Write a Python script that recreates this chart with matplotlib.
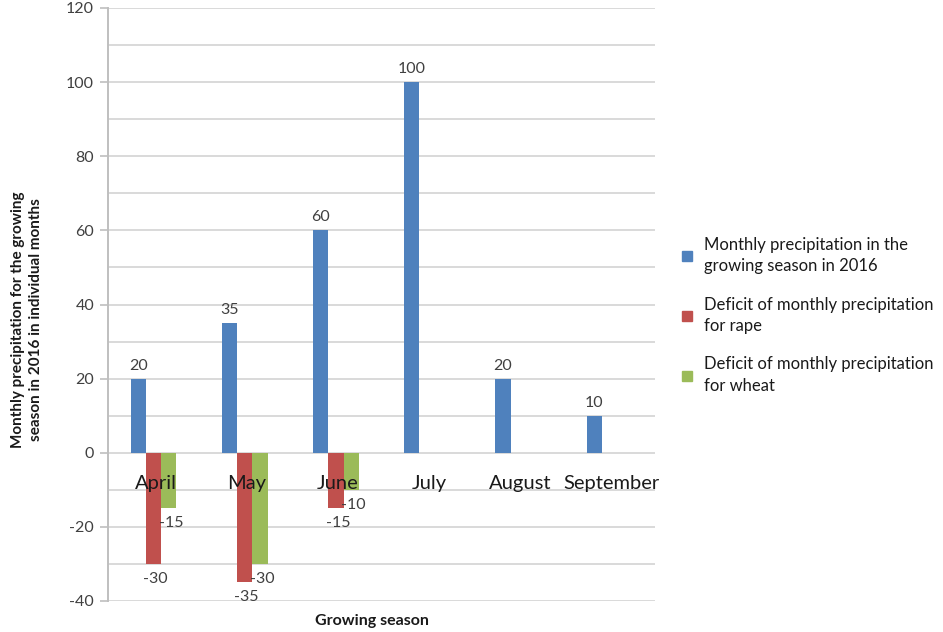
import numpy as np
import matplotlib
matplotlib.use("Agg")
import matplotlib.pyplot as plt
from matplotlib.lines import Line2D

months = ["April", "May", "June", "July", "August", "September"]
precip = [20, 35, 60, 100, 20, 10]
deficit_rape = [-30, -35, -15, np.nan, np.nan, np.nan]
deficit_wheat = [-15, -30, -10, np.nan, np.nan, np.nan]
series_names = ["Monthly precipitation in the\ngrowing season in 2016",
                "Deficit of monthly precipitation\nfor rape",
                "Deficit of monthly precipitation\nfor wheat"]
colors = ["#4F81BD", "#C0504D", "#9BBB59"]

plt.rcParams['font.family'] = ['Lato', 'DejaVu Sans']
plt.rcParams['axes.unicode_minus'] = False

fig = plt.figure(figsize=(9.43, 6.32), dpi=100)
ax = fig.add_axes([108/943, 1-601/632, (655-108)/943, (601-8)/632])

x = np.arange(len(months))
w = 0.167
series = [precip, deficit_rape, deficit_wheat]
for k, (vals, c) in enumerate(zip(series, colors)):
    xs = x + (k-1)*w
    ax.bar(xs, vals, width=w, color=c, zorder=3)
    for xi, v in zip(xs, vals):
        if np.isnan(v):
            continue
        if v >= 0:
            ax.annotate(f"{v:g}", (xi, v), xytext=(0, 6), textcoords='offset pixels',
                        ha='center', va='bottom', fontsize=11.5, color='#404040', zorder=5)
        else:
            ax.annotate(f"{v:g}", (xi, v), xytext=(2, -8), textcoords='offset pixels',
                        ha='center', va='top', fontsize=11.5, color='#404040', zorder=5)

ax.set_xlim(-0.5, len(months)-0.5)
ax.set_ylim(-40, 120)
ax.set_yticks(np.arange(-40, 121, 20))
ax.set_yticks(np.arange(-30, 120, 20), minor=True)
ax.yaxis.grid(True, which='both', color='#D9D9D9', linewidth=1.4, zorder=0)
ax.tick_params(axis='y', which='major', length=6, color='#BFBFBF', width=1.2,
               labelsize=11.5, labelcolor='#404040', pad=4)
ax.tick_params(axis='y', which='minor', length=0)
ax.set_xticks([])
for s in ['top', 'right', 'bottom']:
    ax.spines[s].set_visible(False)
ax.spines['left'].set_color('#BFBFBF')
ax.spines['left'].set_linewidth(1.4)

for xi, m in zip(x, months):
    ax.annotate(m, (xi, 0), xytext=(2, -31), textcoords='offset pixels',
                ha='center', va='center', fontsize=14.5, color='#1a1a1a', zorder=6)

fig.text(372/943, 1-621/632, "Growing season", ha='center', va='center',
         fontsize=11.5, fontweight='bold', color='#1a1a1a')
fig.text(27/943, 1-320/632,
         "Monthly precipitation for the growing\nseason in 2016 in individual months",
         ha='center', va='center', rotation=90, fontsize=11, fontweight='bold',
         color='#1a1a1a', linespacing=1.45)

handles = [Line2D([0], [0], marker='s', linestyle='none', markersize=7,
                  markerfacecolor=c, markeredgecolor=c) for c in colors]
leg = fig.legend(handles, series_names, loc='upper left',
                 bbox_to_anchor=(664/943, 1-222/632), frameon=False,
                 fontsize=12, labelspacing=1.35, handletextpad=0.5,
                 handlelength=1.0, labelcolor='#1a1a1a')
for t in leg.get_texts():
    t.set_linespacing(1.4)

fig.savefig("out.png", dpi=100)
